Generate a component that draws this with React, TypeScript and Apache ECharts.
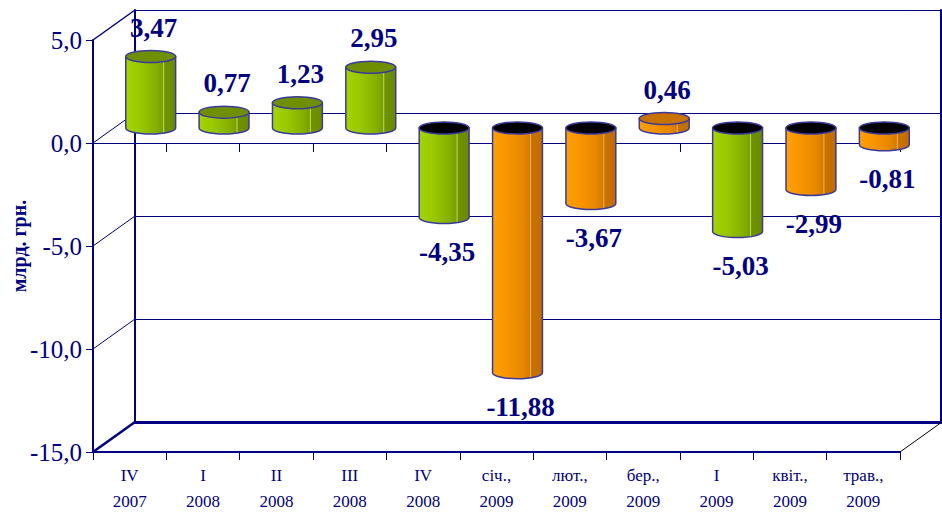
import React, { useEffect, useRef } from "react";
import * as echarts from "echarts";

const periods = ["IV", "I", "II", "III", "IV", "січ.,", "лют.,", "бер.,", "I", "квіт.,", "трав.,"];
const years = ["2007", "2008", "2008", "2008", "2008", "2009", "2009", "2009", "2009", "2009", "2009"];
const values = [3.47, 0.77, 1.23, 2.95, -4.35, -11.88, -3.67, 0.46, -5.03, -2.99, -0.81];
const kinds = ["q", "q", "q", "q", "q", "m", "m", "m", "q", "m", "m"];
const yTicks = [5, 0, -5, -10, -15];
const yAxisTitle = "млрд. грн.";

const NAVY = "#000080";
const FONT = "Liberation Serif";
const DX = 42;
const DY = -30;

const categories = periods.map((p, i) => p + "\n" + years[i]);

export default function App() {
  const ref = useRef<HTMLDivElement>(null);
  useEffect(() => {
    if (!ref.current) return;
    const chart = echarts.init(ref.current, undefined, { renderer: "svg" });

    const greenGrad = () =>
      new echarts.graphic.LinearGradient(0, 0, 1, 0, [
        { offset: 0, color: "#a4d400" },
        { offset: 0.3, color: "#98c800" },
        { offset: 0.6, color: "#86b000" },
        { offset: 0.74, color: "#7a9f00" },
        { offset: 0.76, color: "#b8dc60" },
        { offset: 0.78, color: "#6f9200" },
        { offset: 1, color: "#6a8a00" },
      ]);
    const orangeGrad = () =>
      new echarts.graphic.LinearGradient(0, 0, 1, 0, [
        { offset: 0, color: "#ffa000" },
        { offset: 0.3, color: "#f89400" },
        { offset: 0.6, color: "#e88800" },
        { offset: 0.74, color: "#d47a00" },
        { offset: 0.76, color: "#f0b060" },
        { offset: 0.78, color: "#c87200" },
        { offset: 1, color: "#c06c00" },
      ]);

    const option: any = {
      animation: false,
      backgroundColor: "#ffffff",
      textStyle: { fontFamily: FONT },
      grid: [
        { left: 135, top: 10, width: 806, height: 412, containLabel: false, outerBoundsMode: "none" },
        { left: 93, top: 40, width: 807, height: 412, containLabel: false, outerBoundsMode: "none" },
      ],
      xAxis: [
        {
          type: "category",
          gridIndex: 0,
          data: categories,
          position: "bottom",
          axisLine: { show: true, onZero: false, lineStyle: { color: NAVY, width: 3 } },
          axisTick: { show: false },
          axisLabel: { show: false },
        },
        {
          type: "category",
          gridIndex: 1,
          data: categories,
          position: "bottom",
          axisLine: { show: true, onZero: false, lineStyle: { color: NAVY, width: 2 } },
          axisTick: { show: true, length: 8, lineStyle: { color: NAVY, width: 1 } },
          axisLabel: {
            show: true,
            color: NAVY,
            fontFamily: FONT,
            fontSize: 17,
            lineHeight: 26,
            margin: 10,
            interval: 0,
          },
        },
        {
          type: "category",
          gridIndex: 1,
          data: categories,
          position: "bottom",
          axisLine: { show: true, onZero: true, lineStyle: { color: NAVY, width: 1 } },
          axisTick: { show: true, length: 9, lineStyle: { color: NAVY, width: 1 } },
          axisLabel: { show: false },
        },
      ],
      yAxis: [
        {
          type: "value",
          gridIndex: 0,
          min: -15,
          max: 5,
          interval: 5,
          axisLine: { show: true, lineStyle: { color: NAVY, width: 2 } },
          axisTick: { show: false },
          axisLabel: { show: false },
          splitLine: { show: true, lineStyle: { color: NAVY, width: 1 } },
        },
        {
          type: "value",
          gridIndex: 0,
          min: -15,
          max: 5,
          interval: 5,
          position: "right",
          axisLine: { show: true, lineStyle: { color: NAVY, width: 2 } },
          axisTick: { show: false },
          axisLabel: { show: false },
          splitLine: { show: false },
        },
        {
          type: "value",
          gridIndex: 1,
          min: -15,
          max: 5,
          interval: 5,
          axisLine: { show: true, lineStyle: { color: NAVY, width: 2 } },
          axisTick: { show: true, length: 7, lineStyle: { color: NAVY, width: 1 } },
          axisLabel: {
            color: NAVY,
            fontFamily: FONT,
            fontSize: 25,
            margin: 11,
            formatter: (v: number) => v.toFixed(1).replace(".", ","),
          },
          splitLine: { show: false },
          name: yAxisTitle,
          nameLocation: "middle",
          nameRotate: 90,
          nameGap: 64,
          nameMoveOverlap: false,
          nameTextStyle: { color: NAVY, fontFamily: FONT, fontSize: 20, fontWeight: "bold" },
        },
      ],
      series: [
        {
          type: "custom",
          name: "depth",
          xAxisIndex: 1,
          yAxisIndex: 2,
          z: 1,
          silent: true,
          data: yTicks.map((t) => [0, t]),
          renderItem: (params: any, api: any) => {
            const cs = params.coordSys;
            const t = api.value(1);
            const y = api.coord([0, t])[1];
            const children: any[] = [
              {
                type: "line",
                shape: { x1: cs.x, y1: y, x2: cs.x + DX, y2: y + DY },
                style: { stroke: NAVY, lineWidth: t === -15 ? 2.5 : t === 5 ? 1.5 : 1 },
              },
            ];
            if (t === -15) {
              children.push({
                type: "line",
                shape: { x1: cs.x + cs.width, y1: y, x2: cs.x + cs.width + DX, y2: y + DY },
                style: { stroke: "#000000", lineWidth: 1 },
              });
            }
            return { type: "group", children };
          },
        },
        {
          type: "custom",
          name: "bars",
          xAxisIndex: 1,
          yAxisIndex: 2,
          z: 5,
          data: values.map((v, i) => [i, v]),
          encode: { x: 0, y: 1 },
          renderItem: (params: any, api: any) => {
            const i = api.value(0);
            const v = api.value(1);
            const base = api.coord([i, 0]);
            const end = api.coord([i, v]);
            const cx = base[0] + DX / 2;
            const yBase = base[1] + DY / 2;
            const yVal = end[1] + DY / 2;
            const w = (api.size([1, 0])[0] * 0.68) / 2;
            const ry = 6;
            const isGreen = kinds[i] === "q";
            const yT = Math.min(yBase, yVal);
            const yB = Math.max(yBase, yVal);
            const capColor = v >= 0 ? (isGreen ? "#6f8f00" : "#c87200") : "#000000";
            const stroke = "#3a3a9c";
            const body = `M ${cx - w} ${yT} L ${cx - w} ${yB} A ${w} ${ry} 0 0 0 ${cx + w} ${yB} L ${cx + w} ${yT} Z`;
            const label = v.toFixed(2).replace(".", ",");
            const labelY = v >= 0 ? yT - ry - 23 : yB + ry + 28;
            return {
              type: "group",
              children: [
                {
                  type: "path",
                  shape: { pathData: body },
                  style: { fill: isGreen ? greenGrad() : orangeGrad(), stroke, lineWidth: 1.5 },
                },
                {
                  type: "ellipse",
                  shape: { cx, cy: yT, rx: w, ry },
                  style: { fill: capColor, stroke, lineWidth: 1.5 },
                },
                {
                  type: "text",
                  x: cx + 3,
                  y: labelY,
                  style: {
                    text: label,
                    fill: NAVY,
                    fontFamily: FONT,
                    fontSize: 27,
                    fontWeight: "bold",
                    align: "center",
                    verticalAlign: "middle",
                  },
                },
              ],
            };
          },
        },
      ],
    };
    chart.setOption(option);
    return () => chart.dispose();
  }, []);
  return (
    <div
      ref={ref}
      style={{ position: "fixed", left: 0, top: 0, width: 942, height: 514, background: "#fff" }}
    />
  );
}
